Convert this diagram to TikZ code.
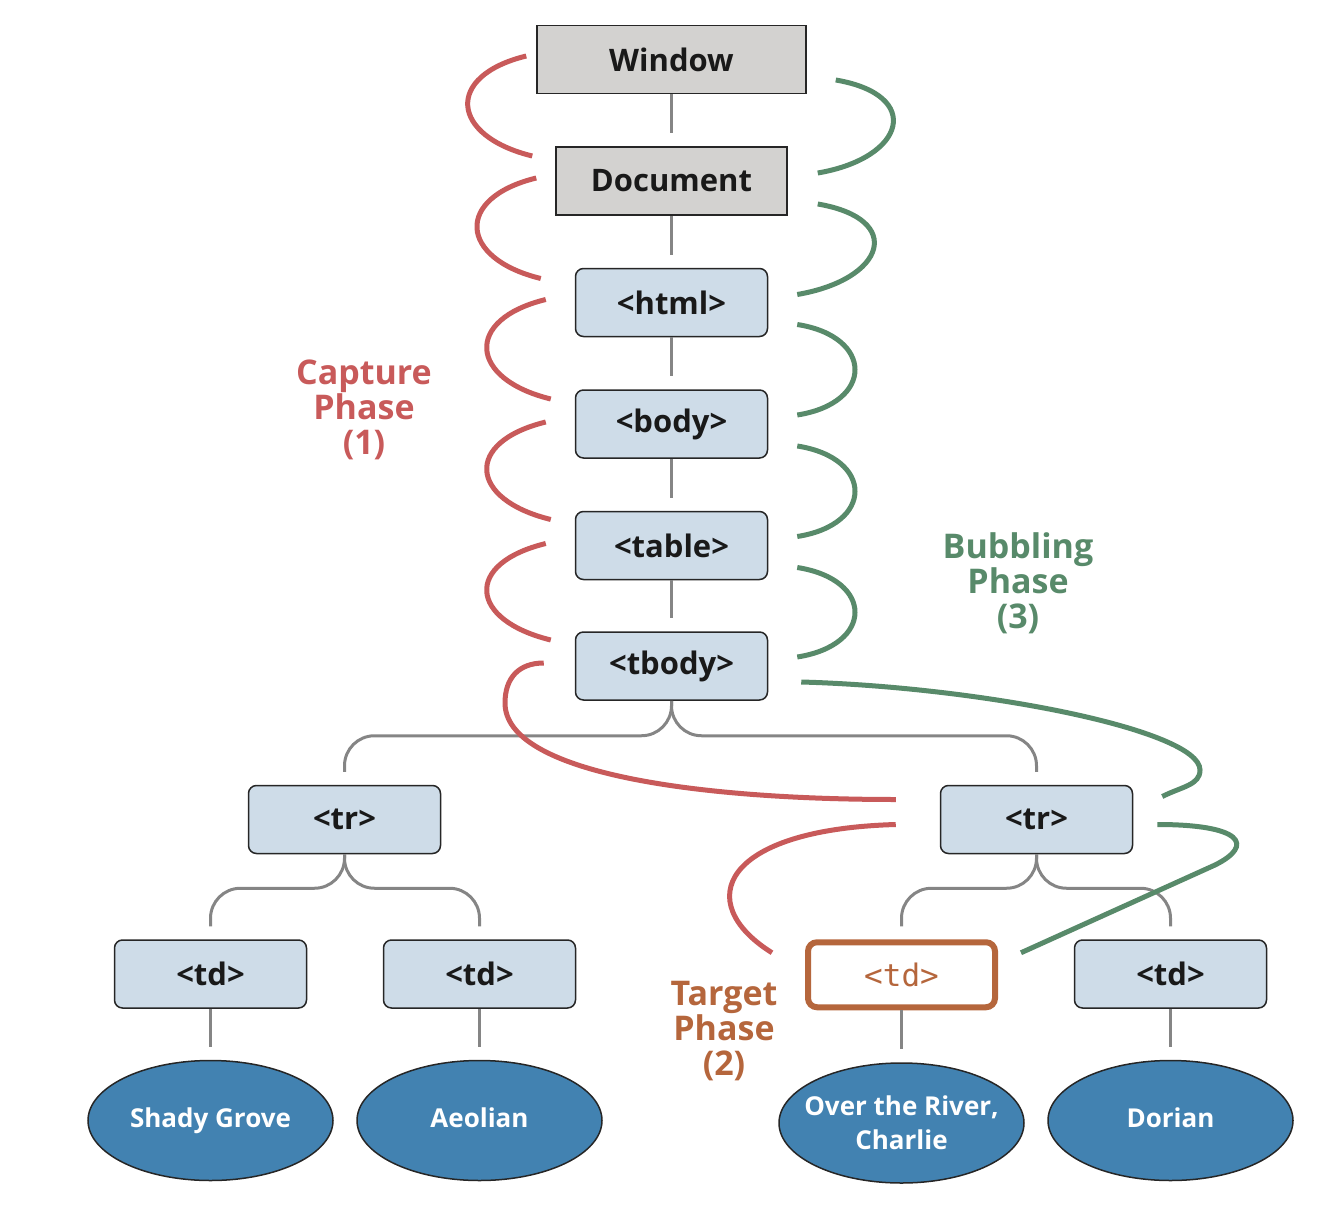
\documentclass[tikz,border=0pt]{standalone}
\usepackage{fontspec}
\setmainfont{Open Sans}
\newfontfamily\monofont{DejaVu Sans Mono}
\usetikzlibrary{positioning, shapes.geometric}
\definecolor{capred}{HTML}{C85A5A}
\definecolor{bubgreen}{HTML}{588A6A}
\definecolor{targetorange}{HTML}{B5663C}
\definecolor{nodeblue}{HTML}{CEDCE8}
\definecolor{wingray}{HTML}{D3D2D0}
\definecolor{leafblue}{HTML}{4282B1}
\definecolor{linegray}{HTML}{858585}
\tikzstyle{graybox} = [rectangle, draw=black!85, line width=1.5pt, fill=wingray, minimum height=68pt, font=\fontsize{31}{35}\selectfont\bfseries, text=black!90]
\tikzstyle{tagbox} = [rectangle, rounded corners=8pt, draw=black!85, line width=1.5pt, fill=nodeblue, minimum width=192pt, minimum height=68pt, font=\fontsize{31}{35}\selectfont\bfseries, text=black!90]
\tikzstyle{target} = [rectangle, rounded corners=9pt, draw=targetorange, line width=6pt, fill=white, minimum width=187pt, minimum height=65pt, font=\fontsize{31}{35}\monofont, text=targetorange]
\tikzstyle{leaf} = [ellipse, draw=black!85, line width=1.5pt, fill=leafblue, minimum width=245pt, minimum height=120pt, inner sep=0pt, align=center, font=\fontsize{26}{34}\selectfont\bfseries, text=white]
\tikzstyle{leafone} = [leaf, text height=19pt, text depth=6pt]
\tikzstyle{phase} = [align=center, font=\fontsize{34}{35}\selectfont\bfseries]
\tikzstyle{treeline} = [draw=linegray, line width=3pt, shorten >=13pt]
\tikzstyle{branch} = [treeline, rounded corners=30pt]
\tikzstyle{capture} = [draw=capred, line width=5pt]
\tikzstyle{bubble} = [draw=bubgreen, line width=5pt]
\begin{document}
\begin{tikzpicture}[x=1pt, y=-1pt]
\useasboundingbox (0,0) rectangle (1334,1212);

\node (window) [graybox, minimum width=269pt] at (671.5,59.5) {Window};
\node (document) [graybox, minimum width=231pt, below=52pt of window] {Document};
\node (html) [tagbox, below=52pt of document] {<html>};
\node (body) [tagbox, below=52pt of html] {<body>};
\node (table) [tagbox, below=52pt of body] {<table>};
\node (tbody) [tagbox, below=51pt of table] {<tbody>};
\node (trL) [tagbox, below=84pt of tbody, xshift=-327pt] {<tr>};
\node (trR) [tagbox, below=84pt of tbody, xshift=365pt] {<tr>};
\node (tdA) [tagbox, below=85pt of trL, xshift=-134pt] {<td>};
\node (tdB) [tagbox, below=85pt of trL, xshift=135pt] {<td>};
\node (tdC) [target, below=85pt of trR, xshift=-135pt] {<td>};
\node (tdD) [tagbox, below=85pt of trR, xshift=134pt] {<td>};
\node (leafA) [leafone, below=51pt of tdA] {Shady Grove};
\node (leafB) [leafone, below=51pt of tdB] {Aeolian};
\node (leafC) [leaf, inner xsep=-16pt, below=49pt of tdC, yshift=-3pt] {Over the River,\\Charlie};
\node (leafD) [leafone, below=51pt of tdD] {Dorian};

\node (capture) [phase, text=capred] at (364,410) {Capture\\Phase\\(1)};
\node (bubbling) [phase, text=bubgreen] at (1018,583) {Bubbling\\Phase\\(3)};
\node (targetlbl) [phase, text=targetorange] at (724,1031) {Target\\Phase\\(2)};

% tree
\draw [treeline] (window) -- (document);
\draw [treeline] (document) -- (html);
\draw [treeline] (html) -- (body);
\draw [treeline] (body) -- (table);
\draw [treeline] (table) -- (tbody);
\draw [branch] (tbody.south) -- ++(0,35) -| (trL.north);
\draw [branch] (tbody.south) -- ++(0,35) -| (trR.north);
\draw [branch] (trL.south) -- ++(0,34) -| (tdA.north);
\draw [branch] (trL.south) -- ++(0,34) -| (tdB.north);
\draw [branch] (trR.south) -- ++(0,34) -| (tdC.north);
\draw [branch] (trR.south) -- ++(0,34) -| (tdD.north);
\draw [treeline] (tdA) -- (leafA);
\draw [treeline] (tdB) -- (leafB);
\draw [treeline] (tdC) -- (leafC);
\draw [treeline] (tdD) -- (leafD);

% capture phase
\draw [capture] ([shift={(-10,-3.5)}]window.west) .. controls +(-82,20) and +(-82,-20) .. ([shift={(-23,-25)}]document.west);
\draw [capture] ([shift={(-19,-3)}]document.west) .. controls +(-82,20) and +(-82,-20) .. ([shift={(-34,-24)}]html.west);
\draw [capture] ([shift={(-29,-3)}]html.west) .. controls +(-82,20) and +(-82,-20) .. ([shift={(-24,-25)}]body.west);
\draw [capture] ([shift={(-29,-2)}]body.west) .. controls +(-82,20) and +(-82,-20) .. ([shift={(-24,-26)}]table.west);
\draw [capture] ([shift={(-29,-2)}]table.west) .. controls +(-82,20) and +(-82,-20) .. ([shift={(-24,-26)}]tbody.west);
\draw [capture] ([shift={(-31,-3)}]tbody.west) .. controls +(-25,0) and +(0,-25) .. (505,703) .. controls +(0,70) and +(-200,0) .. ([shift={(-44,-20)}]trR.west);
\draw [capture] ([shift={(-44,5)}]trR.west) .. controls +(-175,5) and +(-80,-50) .. ([shift={(-33,-22)}]tdC.west);

% bubbling phase
\draw [bubble] ([shift={(29,20.5)}]window.east) .. controls +(88,15) and +(88,-15) .. ([shift={(30,-8)}]document.east);
\draw [bubble] ([shift={(30,23)}]document.east) .. controls +(88,15) and +(88,-15) .. ([shift={(29,-8)}]html.east);
\draw [bubble] ([shift={(29,22)}]html.east) .. controls +(77,12) and +(77,-12) .. ([shift={(29,-9)}]body.east);
\draw [bubble] ([shift={(29,22)}]body.east) .. controls +(77,12) and +(77,-12) .. ([shift={(29,-9)}]table.east);
\draw [bubble] ([shift={(29,22)}]table.east) .. controls +(77,12) and +(77,-12) .. ([shift={(29,-9)}]tbody.east);
\draw [bubble] ([shift={(33,16)}]tbody.east) .. controls +(180,5) and +(0,-40) .. (1200,770) .. controls +(0,15) and +(20,-10) .. ([shift={(29,-23)}]trR.east);
\draw [bubble] ([shift={(24,5)}]trR.east) .. controls +(85,0) and +(40,-20) .. (1215,865) -- ([shift={(23,-22)}]tdC.east);

\end{tikzpicture}
\end{document}
